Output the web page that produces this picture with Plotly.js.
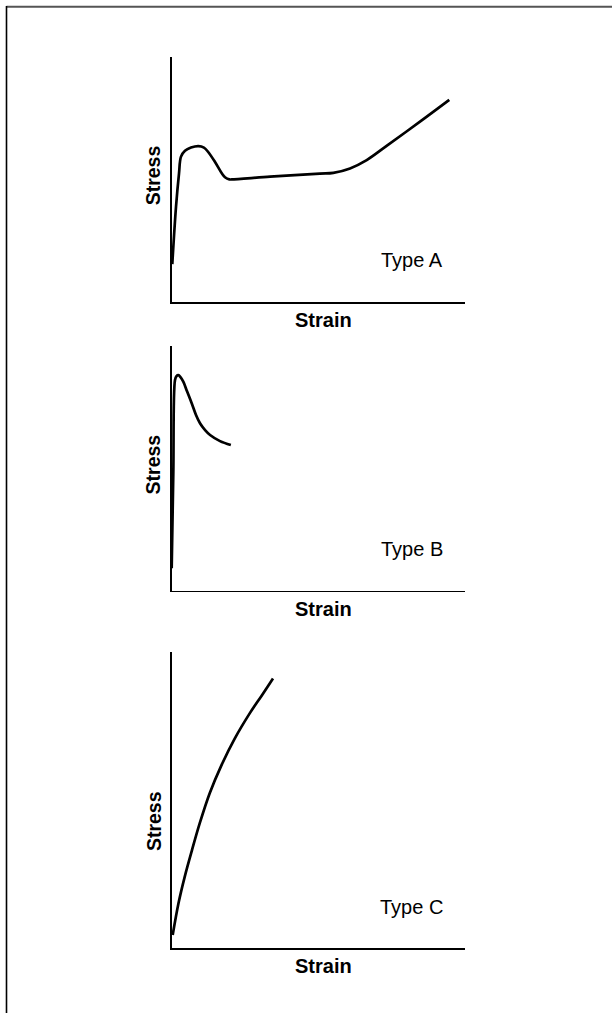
<!DOCTYPE html>
<html>
<head>
<meta charset="utf-8">
<script src="https://cdn.plot.ly/plotly-3.0.1.min.js"></script>
<style>
html,body{margin:0;padding:0;background:#fff;}
#chart{width:612px;height:1013px;}
</style>
</head>
<body>
<div id="chart"></div>
<script>
// ---- data (arbitrary units, 0-100 on each axis) ----
const strainA = [0.2, 1.47, 2.5, 3.18, 4.54, 6.6, 9.08, 11.0, 12.4, 14.8, 17.1, 18.2, 19.7, 20.5, 33.6, 50.6, 55.2, 60.9, 66.6, 73.4, 84.8, 94.8];
const stressA = [15.5, 38.9, 52.6, 59.4, 61.8, 63.1, 63.7, 63.1, 61.4, 57.2, 52.6, 51.0, 50.1, 50.1, 51.2, 52.5, 52.8, 54.6, 58.0, 63.8, 73.7, 82.6];

const strainB = [0, 0.55, 1.13, 1.64, 2.25, 3.0, 3.96, 5.2, 6.83, 8.3, 9.67, 11.4, 13.1, 16.5, 20.2];
const stressB = [9.1, 48.1, 86.1, 87.7, 88.1, 87.3, 85.4, 81.6, 76.6, 71.8, 68.4, 65.6, 63.6, 61.1, 59.5];

const strainC = [0.34, 2.32, 4.44, 6.93, 9.56, 12.98, 16.94, 21.52, 26.64, 31.0, 34.6];
const stressC = [4.5, 15.2, 24.1, 33.1, 42.1, 52.3, 61.6, 70.7, 79.2, 85.6, 91.0];

const panelLabels = ['Type A', 'Type B', 'Type C'];
const xTitle = 'Strain';
const yTitle = 'Stress';

// ---- layout ----
const W = 612, H = 1013;
const xDom = [171.7 / W, 464.5 / W];
const yDoms = [
  [(H - 302) / H, (H - 57.3) / H],
  [(H - 590.5) / H, (H - 346) / H],
  [(H - 948.3) / H, (H - 651.7) / H]
];
const stressY = [0.519, 0.517, 0.43];
const strainY = [-0.0756, -0.076, -0.061];
const typeY = [0.170, 0.169, 0.1376];

const series = [[strainA, stressA], [strainB, stressB], [strainC, stressC]];
const font = 'Liberation Sans, Arial, Helvetica, sans-serif';

const traces = [];
const layout = {
  width: W, height: H,
  margin: {l: 0, r: 0, t: 0, b: 0},
  paper_bgcolor: '#ffffff',
  plot_bgcolor: '#ffffff',
  showlegend: false,
  annotations: [],
  shapes: [
    {type: 'line', xref: 'paper', yref: 'paper', x0: 6.5 / W, x1: 1, y0: (H - 6.7) / H, y1: (H - 6.7) / H,
     line: {color: '#555555', width: 2}},
    {type: 'line', xref: 'paper', yref: 'paper', x0: 6.5 / W, x1: 6.5 / W, y0: 0, y1: (H - 6) / H,
     line: {color: '#000000', width: 1.6}}
  ]
};

series.forEach((s, i) => {
  const n = i === 0 ? '' : String(i + 1);
  traces.push({
    x: s[0], y: s[1], type: 'scatter', mode: 'lines',
    xaxis: 'x' + n, yaxis: 'y' + n,
    line: {color: '#000000', width: 2.7, shape: 'spline', smoothing: 1},
    hoverinfo: 'skip'
  });
  const axBase = {
    showline: true, linecolor: '#000000', linewidth: 1.5,
    showgrid: false, zeroline: false, ticks: '', showticklabels: false,
    range: [0, 100], fixedrange: true
  };
  layout['xaxis' + n] = Object.assign({}, axBase, {domain: xDom, anchor: 'y' + n});
  layout['yaxis' + n] = Object.assign({}, axBase, {domain: yDoms[i], anchor: 'x' + n});
  const xr = 'x' + n + ' domain', yr = 'y' + n + ' domain';
  layout.annotations.push(
    {text: '<b>' + yTitle + '</b>', xref: xr, yref: yr, x: -0.0628, y: stressY[i],
     xanchor: 'center', yanchor: 'middle', textangle: -90, showarrow: false,
     font: {family: font, size: 19.5, color: '#000'}},
    {text: '<b>' + xTitle + '</b>', xref: xr, yref: yr, x: 0.517, y: strainY[i],
     xanchor: 'center', yanchor: 'middle', showarrow: false,
     font: {family: font, size: 20, color: '#000'}},
    {text: panelLabels[i], xref: xr, yref: yr, x: 0.932, y: typeY[i],
     xanchor: 'right', yanchor: 'middle', showarrow: false,
     font: {family: font, size: 20, color: '#000'}}
  );
});

Plotly.newPlot('chart', traces, layout, {displayModeBar: false, staticPlot: true});
</script>
</body>
</html>
